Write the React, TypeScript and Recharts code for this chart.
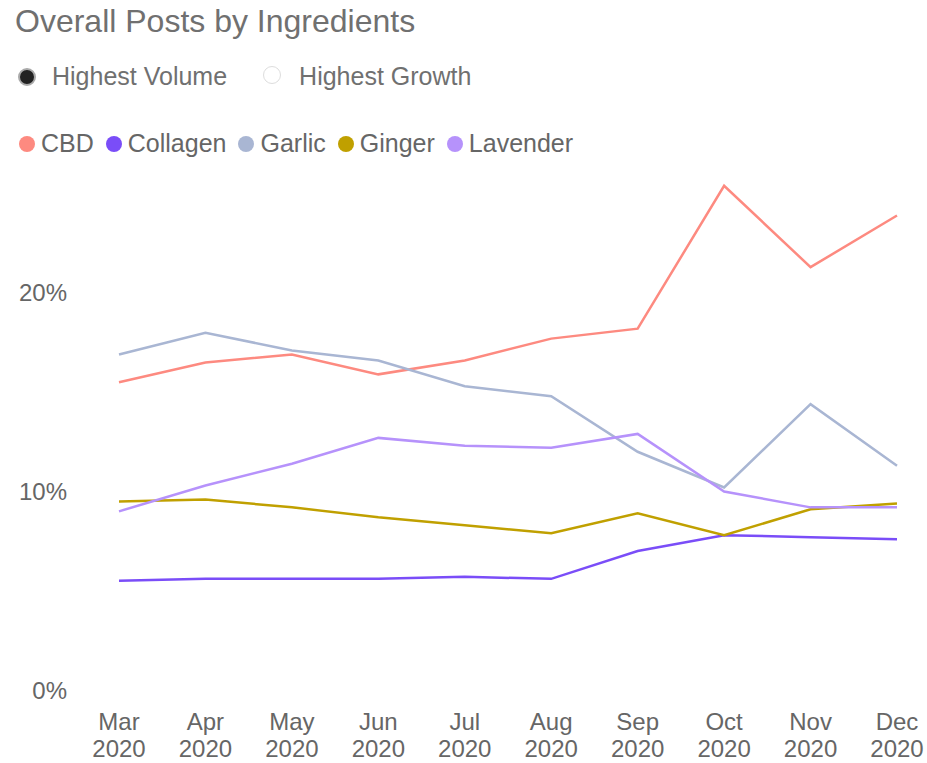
import { LineChart, Line, XAxis, YAxis } from "recharts";

const months = ["Mar", "Apr", "May", "Jun", "Jul", "Aug", "Sep", "Oct", "Nov", "Dec"];
const year = "2020";

const cbd = [15.5, 16.5, 16.9, 15.9, 16.6, 17.7, 18.2, 25.4, 21.3, 23.9];
const collagen = [5.5, 5.6, 5.6, 5.6, 5.7, 5.6, 7.0, 7.8, 7.7, 7.6];
const garlic = [16.9, 18.0, 17.1, 16.6, 15.3, 14.8, 12.0, 10.2, 14.4, 11.3];
const ginger = [9.5, 9.6, 9.2, 8.7, 8.3, 7.9, 8.9, 7.8, 9.1, 9.4];
const lavender = [9.0, 10.3, 11.4, 12.7, 12.3, 12.2, 12.9, 10.0, 9.2, 9.2];

const yTicks = [0, 10, 20];

const series = [
  { key: "CBD", color: "#FD8A80" },
  { key: "Collagen", color: "#7A4DF8" },
  { key: "Garlic", color: "#A9B6D3" },
  { key: "Ginger", color: "#C0A000" },
  { key: "Lavender", color: "#B692FB" },
];

const data = months.map((m, i) => ({
  month: m,
  CBD: cbd[i],
  Collagen: collagen[i],
  Garlic: garlic[i],
  Ginger: ginger[i],
  Lavender: lavender[i],
}));

const font = "'Liberation Sans', Arial, sans-serif";

function MonthTick(props: any) {
  const { x, payload } = props;
  const y = 690;
  return (
    <text x={x} y={y} textAnchor="middle" fill="#666" fontSize={24} fontFamily={font}>
      <tspan x={x} dy={40}>{payload.value}</tspan>
      <tspan x={x} dy={27}>{year}</tspan>
    </text>
  );
}

export default function App() {
  return (
    <div style={{ position: "absolute", left: 0, top: 0, width: 927, height: 763, background: "#fff", fontFamily: font }}>
      <div style={{ position: "absolute", left: 15, top: 3, fontSize: 32, color: "#707070" }}>
        Overall Posts by Ingredients
      </div>
      <div style={{ position: "absolute", left: 18, top: 62, display: "flex", alignItems: "center", fontSize: 25, color: "#707070" }}>
        <span style={{ width: 14, height: 14, borderRadius: "50%", background: "#222", border: "2px solid #aaa", marginRight: 16 }} />
        <span style={{ marginRight: 36 }}>Highest Volume</span>
        <span style={{ width: 16, height: 16, borderRadius: "50%", border: "1px solid #ddd", marginRight: 18, marginTop: -4 }} />
        <span>Highest Growth</span>
      </div>
      <div style={{ position: "absolute", left: 19, top: 129, display: "flex", alignItems: "center", fontSize: 25, color: "#666" }}>
        {series.map((s) => (
          <span key={s.key} style={{ display: "flex", alignItems: "center", marginRight: 12 }}>
            <span style={{ width: 16, height: 16, borderRadius: "50%", background: s.color, marginRight: 6 }} />
            {s.key}
          </span>
        ))}
      </div>
      <div style={{ position: "absolute", left: 0, top: 0 }}>
        <LineChart width={927} height={763} data={data} margin={{ top: 154, right: 30, bottom: 0, left: 0 }}>
          <XAxis
            dataKey="month"
            axisLine={false}
            tickLine={false}
            interval={0}
            tick={<MonthTick />}
            height={73}
          />
          <YAxis
            domain={[0, 27]}
            ticks={yTicks}
            axisLine={false}
            tickLine={false}
            tickSize={0}
            tickMargin={52}
            width={119}
            tickFormatter={(v: number) => `${v}%`}
            tick={{ fill: "#666", fontSize: 24, fontFamily: font }}
          />
          {series.map((s) => (
            <Line
              key={s.key}
              type="linear"
              dataKey={s.key}
              stroke={s.color}
              strokeWidth={2.5}
              dot={false}
              activeDot={false}
              isAnimationActive={false}
            />
          ))}
        </LineChart>
      </div>
    </div>
  );
}
